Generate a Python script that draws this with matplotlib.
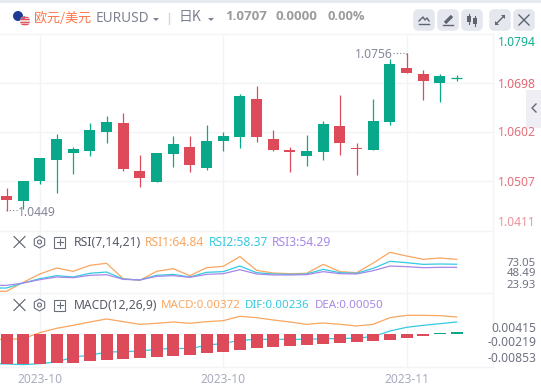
import matplotlib
matplotlib.use("Agg")
import matplotlib.pyplot as plt
import numpy as np
from matplotlib.patches import Circle, FancyBboxPatch, Rectangle, RegularPolygon

plt.rcParams['font.family'] = ['Noto Sans', 'Noto Sans CJK SC', 'DejaVu Sans']

# ---------- data ----------
opens = [1.04777,1.04679,1.05069,1.05479,1.05615,1.05654,1.06025,1.06200,1.05264,1.05050,1.05596,1.05732,1.05323,1.05849,
         1.05927,1.06668,1.05888,1.05674,1.05557,1.05635,1.06142,1.05712,1.05674,1.06220,1.07273,1.07156,1.06980,1.07070]
closes = [1.04699,1.05069,1.05518,1.05888,1.05693,1.06064,1.06220,1.05303,1.05128,1.05615,1.05790,1.05381,1.05849,1.05947,
          1.06727,1.05927,1.05674,1.05635,1.05654,1.06180,1.05810,1.05693,1.06239,1.07350,1.07175,1.07019,1.07117,1.07070]
highs = [1.04927,1.05069,1.05518,1.05986,1.05732,1.06200,1.06337,1.06395,1.05576,1.05615,1.05947,1.05947,1.06161,1.06025,
         1.06766,1.06922,1.06064,1.05732,1.05966,1.06239,1.06746,1.05810,1.06668,1.07454,1.07560,1.07234,1.07156,1.07136]
lows = [1.04490,1.04523,1.05016,1.04841,1.05205,1.05557,1.05810,1.05264,1.04952,1.05050,1.05342,1.05245,1.05284,1.05654,
        1.05713,1.05829,1.05654,1.05245,1.05362,1.05479,1.05576,1.05186,1.05674,1.06161,1.07175,1.06649,1.06610,1.07019]
price_grid = [1.0698, 1.0602, 1.0507]
price_labels = ["1.0794", "1.0698", "1.0602", "1.0507", "1.0411"]

rsi1 = [22.6,22.6,34.5,45.5,53.4,49.0,56.9,59.6,39.3,37.1,49.0,52.5,43.3,53.8,55.6,68.4,50.3,46.8,45.9,46.4,58.2,48.6,47.2,60.0,74.1,69.2,64.84,66.6,64.84]
rsi2 = [27.0,27.0,33.6,39.3,43.3,41.5,46.4,48.1,38.9,37.6,43.7,45.0,41.5,47.7,48.6,56.0,47.2,45.5,45.0,45.5,51.6,47.2,46.4,53.0,62.2,60.4,58.2,58.7,58.37]
rsi3 = [30.5,30.5,33.6,38.0,41.5,40.6,43.7,44.6,38.4,37.6,42.4,43.3,41.1,45.0,45.9,51.2,45.5,44.2,44.2,44.6,48.6,45.9,45.5,49.9,56.0,55.2,53.8,54.3,54.29]
rsi_labels = ["73.05", "48.49", "23.93"]

macd_line = [-0.00124,-0.00117,-0.00102,0.00029,0.00124,0.00190,0.00263,0.00329,0.00270,0.00212,0.00234,0.00263,0.00234,0.00270,0.00292,
             0.00387,0.00358,0.00307,0.00263,0.00212,0.00241,0.00212,0.00175,0.00212,0.00358,0.00409,0.00409,0.00402,0.00372]
dif_line = [-0.00650,-0.00657,-0.00672,-0.00650,-0.00613,-0.00504,-0.00467,-0.00394,-0.00387,-0.00372,-0.00336,-0.00314,-0.00321,-0.00248,-0.00204,
            -0.00139,-0.00117,-0.00117,-0.00117,-0.00117,-0.00102,-0.00102,-0.00088,-0.00058,0.00066,0.00146,0.00190,0.00226,0.00263]
hist = [-0.00657,-0.00657,-0.00657,-0.00635,-0.00635,-0.00591,-0.00569,-0.00548,-0.00526,-0.00504,-0.00482,-0.00460,-0.00416,-0.00394,
        -0.00350,-0.00307,-0.00285,-0.00263,-0.00241,-0.00219,-0.00197,-0.00175,-0.00153,-0.00131,-0.00088,-0.00044,0.00015,0.00044]
macd_labels = ["0.00415", "-0.00219", "-0.00853"]
date_ticks = [2, 13, 24]
date_labels = ["2023-10", "2023-10", "2023-11"]

GREEN, RED = "#0aa88b", "#dd4b5a"
ORANGE, BLUE, PURPLE = "#f9a660", "#35c9e2", "#a688e8"
GRID = "#f3f4f8"
W, H = 541, 386

fig = plt.figure(figsize=(W / 100, H / 100), dpi=100, facecolor="white")

def panel(top, bottom):
    ax = fig.add_axes([0, 1 - bottom / H, 493 / W, (bottom - top) / H])
    ax.set_xlim(-0.39, 29.18)
    ax.set_facecolor("none")
    for s in ax.spines.values():
        s.set_visible(False)
    ax.set_xticks(date_ticks)
    ax.tick_params(length=0, labelbottom=False, labelleft=False)
    ax.grid(True, axis="x", color=GRID, lw=1)
    ax.set_axisbelow(True)
    return ax

# ---------- price panel ----------
ax1 = panel(34, 231)
ax1.set_ylim(1.04094, 1.07936)
ax1.set_yticks(price_grid)
ax1.grid(True, axis="y", color=GRID, lw=1)
idx = np.arange(len(opens))
o, c, hi, lo = map(np.array, (opens, closes, highs, lows))
cols = [GREEN if cl >= op else RED for op, cl in zip(o, c)]
ax1.vlines(idx, lo, hi, colors=cols, lw=0.9, zorder=2)
ax1.bar(idx, np.abs(c - o), bottom=np.minimum(o, c), width=0.66, color=cols, zorder=3)
ax1.hlines(c[-1], idx[-1] - 0.33, idx[-1] + 0.33, colors=GREEN, lw=0.9, zorder=3)

# ---------- RSI panel ----------
ax2 = panel(231, 293)
ax2.set_ylim(20.4, 102.24)
x_ext = np.arange(-1, len(opens))
for s, col in ((rsi1, ORANGE), (rsi2, BLUE), (rsi3, PURPLE)):
    ax2.plot(x_ext, s, color=col, lw=0.9)

# ---------- MACD panel ----------
ax3 = panel(293, 367)
ax3.set_ylim(-0.00723, 0.00898)
ax3.plot(x_ext, macd_line, color=ORANGE, lw=0.9, zorder=2)
ax3.plot(x_ext, dif_line, color=BLUE, lw=0.9, zorder=2)
h = np.array(hist)
ax3.bar(idx, h, width=0.72, color=[GREEN if v > 0 else RED for v in h], zorder=3)
ax3.set_xticklabels(date_labels)
ax3.tick_params(labelbottom=True, labelsize=8.6, labelcolor="#a9acbd", pad=4)

# ---------- overlay in pixel coordinates ----------
ui = fig.add_axes([0, 0, 1, 1], zorder=5)
ui.set_xlim(0, W)
ui.set_ylim(H, 0)
ui.axis("off")
ui.set_facecolor("none")

def T(x, y, s, color, size=9.0, ha="left", **kw):
    ui.text(x, y, s, color=color, fontsize=size, ha=ha, va="center", **kw)

# frame lines
ui.add_patch(Rectangle((0, 0), W, 3, color="#e6e9f0", lw=0))
for y in (34, 231, 293, 367):
    ui.plot([0, 493], [y, y], color=GRID, lw=1)
ui.plot([493, 493], [34, 367], color=GRID, lw=1)

# flags
ui.add_patch(Circle((18, 16), 5, color="#1d3b96", lw=0))
flag = Circle((25, 21), 5, color="#f4eef0", lw=0)
ui.add_patch(flag)
for yy in (17, 19.4, 21.8, 24.2):
    ln, = ui.plot([19, 31], [yy, yy], color="#e2505c", lw=1)
    ln.set_clip_path(flag)
ui.add_patch(Rectangle((20, 16), 5, 4, color="#6a6f98", lw=0, alpha=.8)).set_clip_path(flag)

# header
T(34, 18, "欧元/美元", "#ff7548", 9.4, family=['Noto Sans CJK SC', 'DejaVu Sans'])
T(96, 19, "EURUSD", "#7d8191", 9.8)
ui.fill([153, 159, 156], [18, 18, 21], color="#7d8191", lw=0)
ui.plot([169, 169], [13, 24], color="#d5d8e0", lw=1)
T(179, 17, "日K", "#7d8191", 10, family=['Noto Sans CJK SC', 'DejaVu Sans'])
ui.fill([208, 214, 211], [18, 18, 21], color="#7d8191", lw=0)
BOLD = ['Open Sans', 'DejaVu Sans']
T(225, 17, "1.0707", "#9c9c9c", 9.6, fontweight="bold", family=BOLD)
T(276, 17, "0.0000", "#9c9c9c", 9.6, fontweight="bold", family=BOLD)
T(327, 17, "0.00%", "#9c9c9c", 9.3, fontweight="bold", family=BOLD)

# buttons
for bx in (414, 438, 462, 490, 514):
    ui.add_patch(FancyBboxPatch((bx + 2, 12), 16, 16, boxstyle="round,pad=0,rounding_size=2",
                                mutation_aspect=1, fc="#e5e7ef", ec="#e5e7ef", lw=4))
IC = "#5f6470"
ui.plot([419, 423, 425, 427, 429], [21, 17, 20, 18, 21], color=IC, lw=1)
ui.plot([419, 429], [24, 24], color=IC, lw=1)
ui.plot([445, 452], [23, 16], color=IC, lw=2.4, solid_capstyle="butt")
ui.plot([443, 453], [25, 25], color=IC, lw=1)
ui.plot([469, 469], [14, 24], color=IC, lw=0.8)
ui.plot([475, 475], [16, 26], color=IC, lw=0.8)
ui.add_patch(Rectangle((467, 16), 4, 6, color=IC, lw=0))
ui.add_patch(Rectangle((473, 18), 4, 6, color=IC, lw=0))
ui.plot([496, 504], [24, 16], color=IC, lw=1)
ui.fill([501, 505, 505], [15, 15, 19], color=IC, lw=0)
ui.fill([495, 495, 499], [21, 25, 25], color=IC, lw=0)
ui.plot([519, 529], [15, 25], color=IC, lw=1)
ui.plot([519, 529], [25, 15], color=IC, lw=1)

# side tab
ui.add_patch(Rectangle((526, 90), 15, 38, color="#eeeef4", lw=0))
ui.plot([536, 532, 536], [104, 108, 112], color="#666a76", lw=1)

# price labels
AX = 536
for (y, s, col, a) in zip((42, 84, 133, 183, 222), price_labels,
                          ("#12ab8f", RED, RED, RED, RED), (1, .85, .8, .8, .6)):
    T(AX, y, s, col, 8.7, ha="right", alpha=a)

# high/low markers
T(355, 55, "1.0756", "#83869a", 8.7)
ui.plot([393, 406], [53, 53], color="#83869a", lw=0.8, ls=(0, (1, 2)))
ui.plot([406, 406], [53, 56], color="#83869a", lw=0.8, ls=(0, (1, 2)))
T(18, 213, "1.0449", "#83869a", 8.7)
ui.plot([6, 18], [210, 210], color="#83869a", lw=0.8, ls=(0, (1, 2)))

# panel header controls
def controls(y):
    ui.plot([14, 25], [y - 5.5, y + 5.5], color="#5a5e6a", lw=0.8)
    ui.plot([14, 25], [y + 5.5, y - 5.5], color="#5a5e6a", lw=0.8)
    ui.add_patch(RegularPolygon((39.5, y), 6, radius=6, fc="none", ec="#6a6e7a", lw=0.8))
    ui.add_patch(Circle((39.5, y), 2, fc="none", ec="#6a6e7a", lw=0.8))
    ui.add_patch(Rectangle((54, y - 5.5), 11, 11, fc="none", ec="#6a6e7a", lw=0.8))
    ui.plot([56.5, 62.5], [y, y], color="#6a6e7a", lw=0.8)
    ui.plot([59.5, 59.5], [y - 3, y + 3], color="#6a6e7a", lw=0.8)

controls(242)
T(74, 242.5, "RSI(7,14,21)", "#555967", 8.8)
T(145, 242.5, "RSI1:64.84", ORANGE, 8.7)
T(209, 242.5, "RSI2:58.37", BLUE, 8.7)
T(272, 242.5, "RSI3:54.29", PURPLE, 8.7)
for y, s in zip((263, 274, 285), rsi_labels):
    T(AX, y, s, "#6f7383", 8.2, ha="right")

controls(305)
T(74, 305.5, "MACD(12,26,9)", "#555967", 8.7)
T(161, 305.5, "MACD:0.00372", ORANGE, 8.3)
T(245, 305.5, "DIF:0.00236", BLUE, 8.3)
T(315, 305.5, "DEA:0.00050", PURPLE, 8.3)
for y, s in zip((328, 343, 358), macd_labels):
    T(AX, y, s, "#6f7383", 8.7, ha="right")

fig.savefig("out.png", dpi=100, facecolor="white")
